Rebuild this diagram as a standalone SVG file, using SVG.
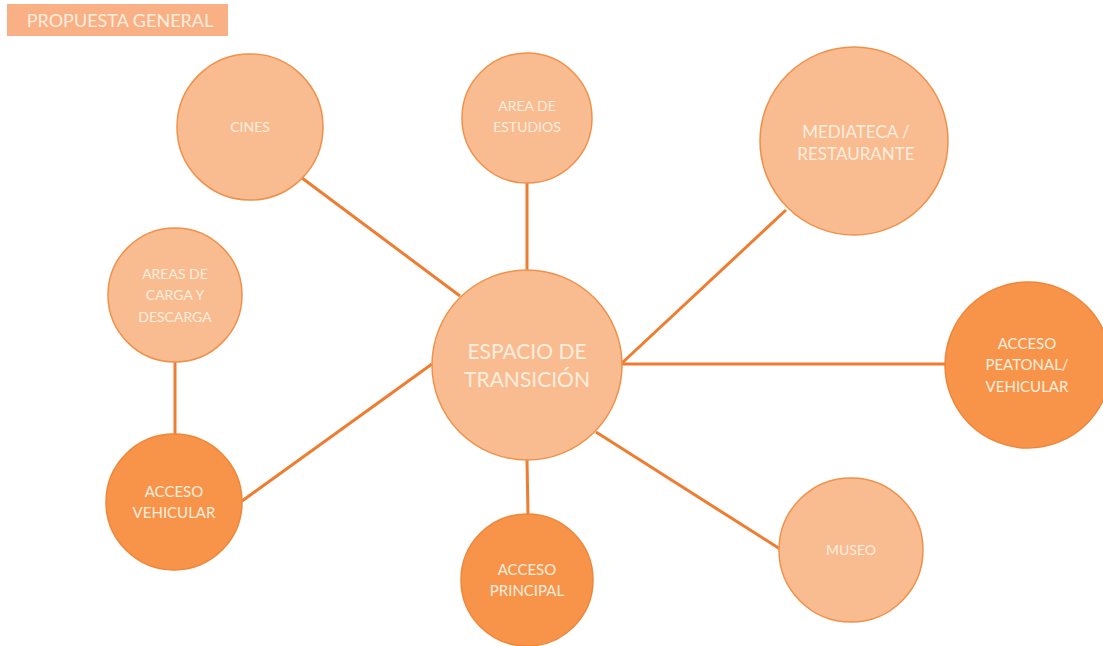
<svg xmlns="http://www.w3.org/2000/svg" width="1103" height="646" viewBox="0 0 1103 646">
<style>
.light{fill:#F9BC91;stroke:#F0914A;stroke-width:1.5}
.dark{fill:#F7944A;stroke:#EF8638;stroke-width:1.5}
.conn line{stroke:#EE7D31;stroke-width:3;stroke-linecap:butt}
text{font-family:Lato,"Open Sans","Liberation Sans",sans-serif;fill:#FEEEDF;text-anchor:middle}
.s{font-size:14px}
.d{font-size:15px}
.m{font-size:17px}
.l{font-size:21px}
</style>
<rect width="1103" height="646" fill="#FFFFFF"/>
<g id="title">
<rect x="7" y="4" width="221" height="32" fill="#F9B084"/>
<text x="120" y="27" style="font-size:18px">PROPUESTA GENERAL</text>
</g>
<g id="connectors" class="conn">
<line x1="302" y1="178" x2="460" y2="296"/>
<line x1="527" y1="183" x2="527" y2="270"/>
<line x1="786" y1="210" x2="622" y2="363"/>
<line x1="622" y1="364" x2="945" y2="364"/>
<line x1="596" y1="432" x2="780" y2="549"/>
<line x1="527" y1="460" x2="528" y2="514"/>
<line x1="242" y1="501" x2="432" y2="364"/>
<line x1="175" y1="362" x2="175" y2="435"/>
</g>
<g id="cines"><circle class="light" cx="250" cy="127" r="73"/><text class="s" x="250" y="132">CINES</text></g>
<g id="estudios"><circle class="light" cx="527" cy="118" r="65"/><text class="s" x="527" y="111">AREA DE</text><text class="s" x="527" y="132">ESTUDIOS</text></g>
<g id="mediateca"><circle class="light" cx="854" cy="141" r="94"/><text class="m" x="856" y="138">MEDIATECA /</text><text class="m" x="856" y="160">RESTAURANTE</text></g>
<g id="carga"><circle class="light" cx="175" cy="295" r="67"/><text class="s" x="175" y="279">AREAS DE</text><text class="s" x="175" y="300">CARGA Y</text><text class="s" x="175" y="322">DESCARGA</text></g>
<g id="transicion"><circle class="light" cx="527" cy="365" r="95"/><text class="l" x="527" y="359">ESPACIO DE</text><text class="l" x="527" y="387">TRANSICIÓN</text></g>
<g id="peatonal"><circle class="dark" cx="1028" cy="365" r="83"/><text class="d" x="1027" y="349">ACCESO</text><text class="d" x="1027" y="370">PEATONAL/</text><text class="d" x="1027" y="392">VEHICULAR</text></g>
<g id="vehicular"><circle class="dark" cx="174" cy="502" r="68"/><text class="d" x="174" y="497">ACCESO</text><text class="d" x="174" y="518">VEHICULAR</text></g>
<g id="principal"><circle class="dark" cx="527" cy="580" r="66"/><text class="d" x="527" y="575">ACCESO</text><text class="d" x="527" y="596">PRINCIPAL</text></g>
<g id="museo"><circle class="light" cx="851" cy="550" r="72"/><text class="s" x="851" y="555">MUSEO</text></g>
</svg>
